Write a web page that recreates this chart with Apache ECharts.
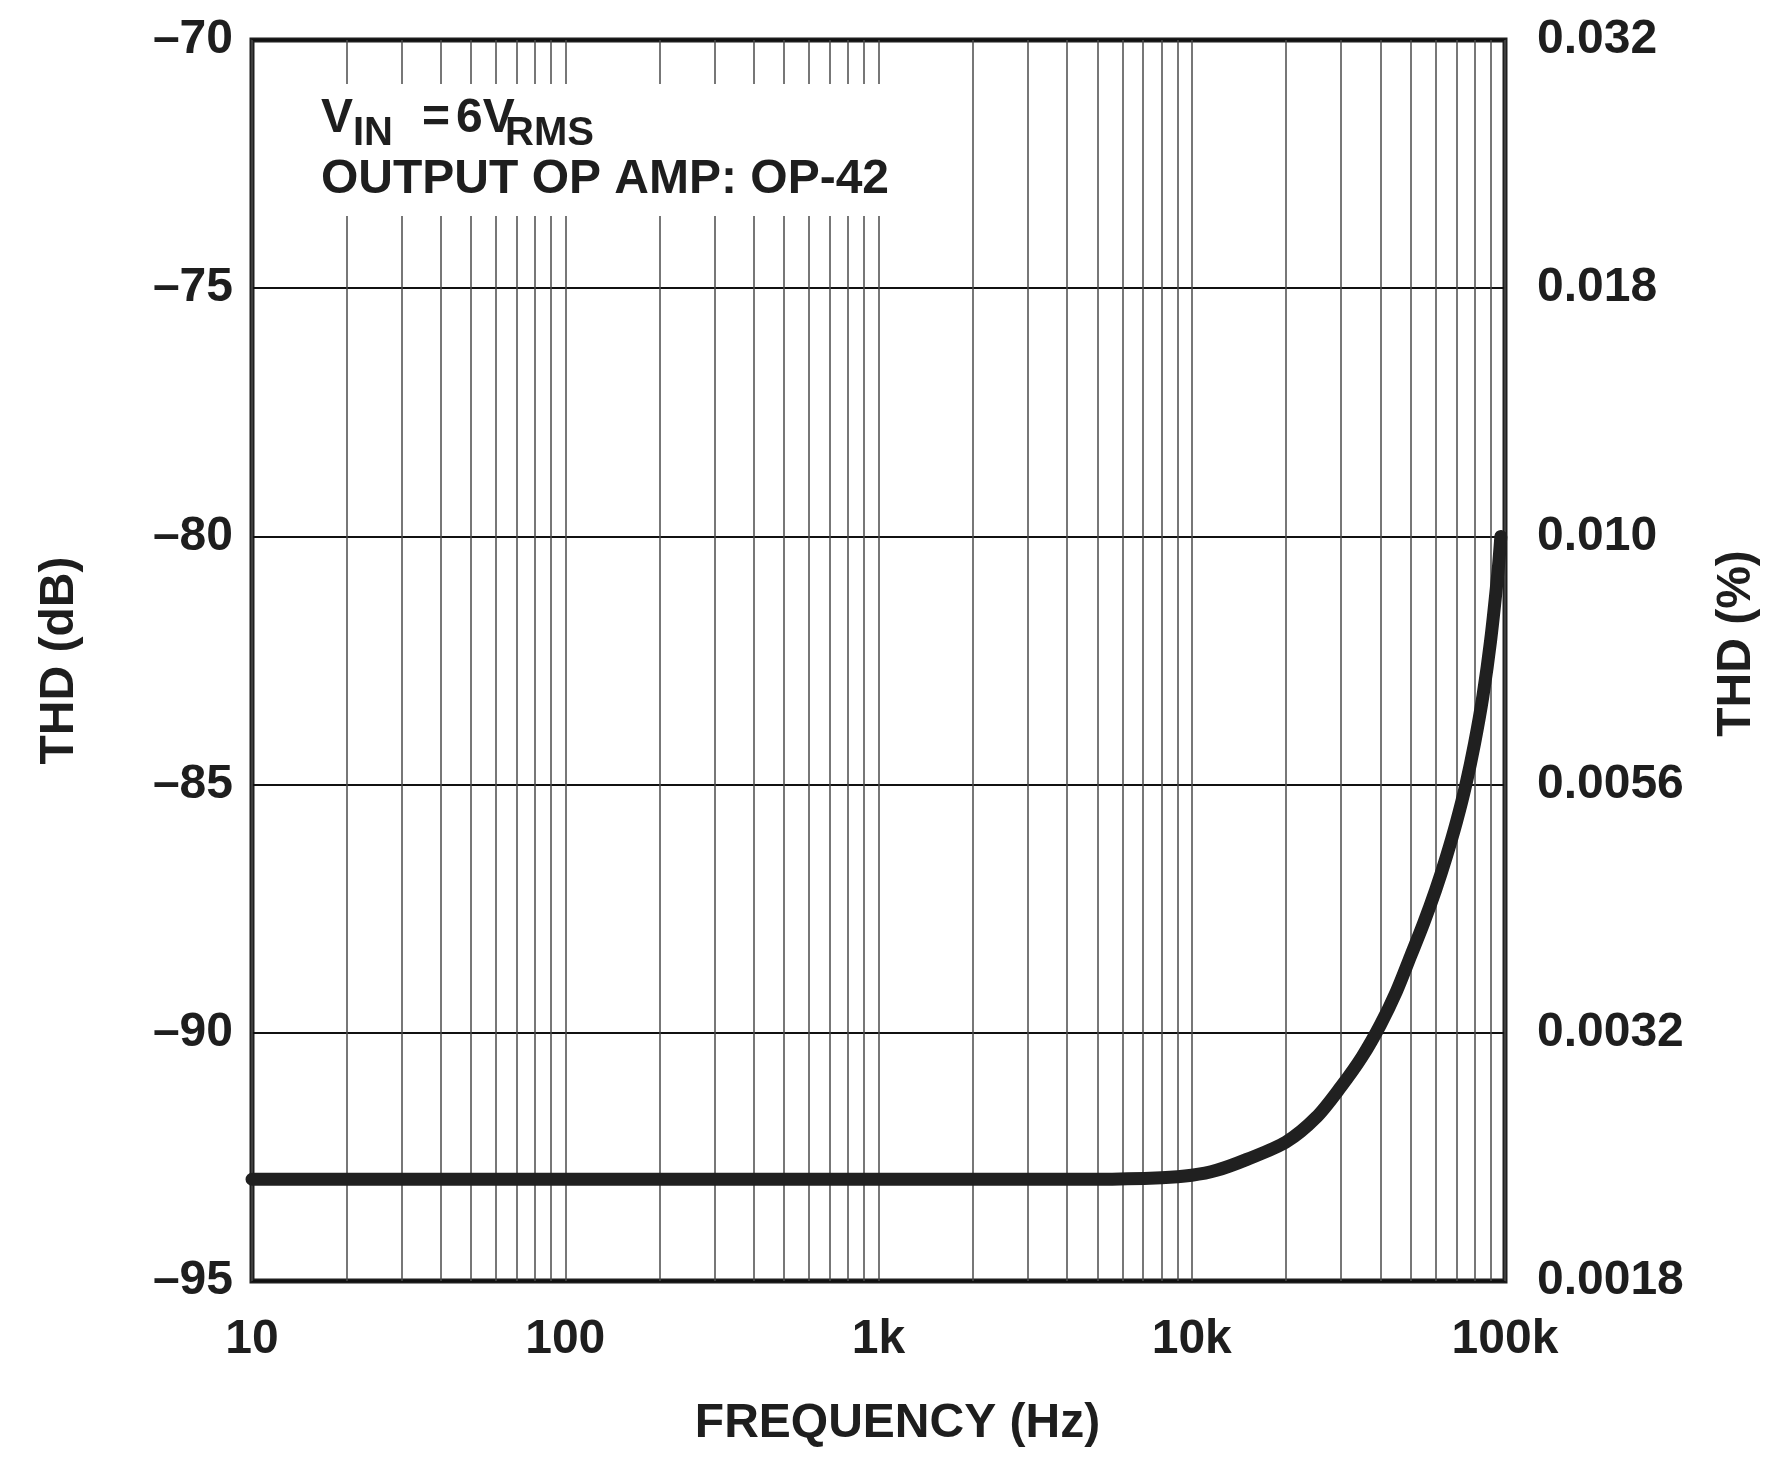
<!DOCTYPE html>
<html>
<head>
<meta charset="utf-8">
<script src="https://cdn.jsdelivr.net/npm/echarts@6/dist/echarts.min.js"></script>
<style>
html,body{margin:0;padding:0;background:#fff;}
#c{width:1781px;height:1461px;}
</style>
</head>
<body>
<div id="c"></div>
<script>
// Data
var freqHz = [10, 100, 1000, 5000, 8000, 10000, 12000, 15000, 20000, 25000, 30000, 35000, 40000, 45000, 50000, 55000, 60000, 65000, 70000, 75000, 80000, 85000, 90000, 95000, 97000];
var thdDb  = [-92.95, -92.95, -92.95, -92.95, -92.92, -92.87, -92.77, -92.55, -92.2, -91.7, -91.08, -90.48, -89.84, -89.17, -88.45, -87.79, -87.13, -86.45, -85.75, -85.0, -84.16, -83.22, -82.09, -80.7, -80.0];

// Tick labels
var xTickValues = [10, 100, 1000, 10000, 100000];
var xTickLabels = ['10', '100', '1k', '10k', '100k'];
var yTickValues = [-95, -90, -85, -80, -75, -70];
var yLeftLabels = ['\u201395', '\u201390', '\u201385', '\u201380', '\u201375', '\u201370'];
var yRightLabels = ['0.0018', '0.0032', '0.0056', '0.010', '0.018', '0.032'];

// Minor log grid values (2..9 x each decade)
var minorGrid = [];
[10, 100, 1000, 10000].forEach(function (d) {
  for (var k = 2; k <= 9; k++) minorGrid.push(k * d);
});

var FONT = '"Liberation Sans", Arial, Helvetica, sans-serif';
var INK = '#1e1e1e';

function lookup(vals, labels, v) {
  for (var i = 0; i < vals.length; i++) {
    if (Math.abs(vals[i] - v) < 1e-6 * Math.max(1, Math.abs(v))) return labels[i];
  }
  return '';
}

var chart = echarts.init(document.getElementById('c'), null, {renderer: 'canvas'});

var option = {
  backgroundColor: '#ffffff',
  animation: false,
  grid: {
    left: 252, right: 276, top: 40, bottom: 180,
    show: true, borderColor: INK, borderWidth: 5, backgroundColor: 'transparent'
  },
  xAxis: {
    type: 'log', logBase: 10, min: 10, max: 100000,
    name: 'FREQUENCY (Hz)', nameLocation: 'middle', nameGap: 119,
    nameTextStyle: {fontFamily: FONT, fontWeight: 'bold', fontSize: 48, color: INK, padding: [0, 0, 0, 38]},
    axisLine: {show: false}, axisTick: {show: false},
    axisLabel: {
      margin: 35, fontFamily: FONT, fontWeight: 'bold', fontSize: 48, color: INK,
      formatter: function (v) { return lookup(xTickValues, xTickLabels, v); }
    },
    splitLine: {show: true, lineStyle: {color: '#4a4a4a', width: 1.5}}
  },
  yAxis: [{
    type: 'value', min: -95, max: -70, interval: 5, position: 'left',
    name: 'THD (dB)', nameLocation: 'middle', nameGap: 168, nameRotate: 90,
    nameTextStyle: {fontFamily: FONT, fontWeight: 'bold', fontSize: 48, color: INK},
    axisLine: {show: false}, axisTick: {show: false},
    axisLabel: {
      margin: 19, fontFamily: FONT, fontWeight: 'bold', fontSize: 48, color: INK,
      formatter: function (v) { return lookup(yTickValues, yLeftLabels, v); }
    },
    splitLine: {show: true, lineStyle: {color: '#111', width: 2}}
  }, {
    type: 'value', min: -95, max: -70, interval: 5, position: 'right',
    name: 'THD (%)', nameLocation: 'middle', nameGap: 208, nameRotate: 90,
    nameTextStyle: {fontFamily: FONT, fontWeight: 'bold', fontSize: 48, color: INK, padding: [0, 0, 0, 34]},
    axisLine: {show: false}, axisTick: {show: false},
    axisLabel: {
      margin: 32, fontFamily: FONT, fontWeight: 'bold', fontSize: 48, color: INK,
      formatter: function (v) { return lookup(yTickValues, yRightLabels, v); }
    },
    splitLine: {show: false}
  }],
  series: [{
    type: 'line',
    xAxisIndex: 0, yAxisIndex: 0,
    data: freqHz.map(function (f, i) { return [f, thdDb[i]]; }),
    showSymbol: false, symbol: 'none',
    smooth: 0.3,
    lineStyle: {color: '#202020', width: 13, cap: 'round', join: 'round'},
    z: 5,
    markLine: {
      silent: true, symbol: 'none', animation: false,
      label: {show: false},
      lineStyle: {color: '#4a4a4a', width: 1.5, type: 'solid'},
      data: minorGrid.map(function (v) { return {xAxis: v}; }),
      z: 1
    }
  }],
  graphic: [
    {type: 'rect', z: 100, shape: {x: 305, y: 84, width: 595, height: 132}, style: {fill: '#ffffff'}},
    {type: 'text', z: 101, x: 321, y: 119, style: {text: 'V', font: 'bold 48px ' + FONT, fill: INK, textVerticalAlign: 'middle'}},
    {type: 'text', z: 101, x: 353, y: 134, style: {text: 'IN', font: 'bold 40px ' + FONT, fill: INK, textVerticalAlign: 'middle'}},
    {type: 'text', z: 101, x: 422, y: 119, style: {text: '=', font: 'bold 48px ' + FONT, fill: INK, textVerticalAlign: 'middle'}},
    {type: 'text', z: 101, x: 456, y: 119, style: {text: '6V', font: 'bold 48px ' + FONT, fill: INK, textVerticalAlign: 'middle'}},
    {type: 'text', z: 101, x: 505, y: 134, style: {text: 'RMS', font: 'bold 40px ' + FONT, fill: INK, textVerticalAlign: 'middle'}},
    {type: 'text', z: 101, x: 321, y: 180, style: {text: 'OUTPUT OP AMP: OP-42', font: 'bold 48px ' + FONT, fill: INK, textVerticalAlign: 'middle'}}
  ]
};

chart.setOption(option);
</script>
</body>
</html>
